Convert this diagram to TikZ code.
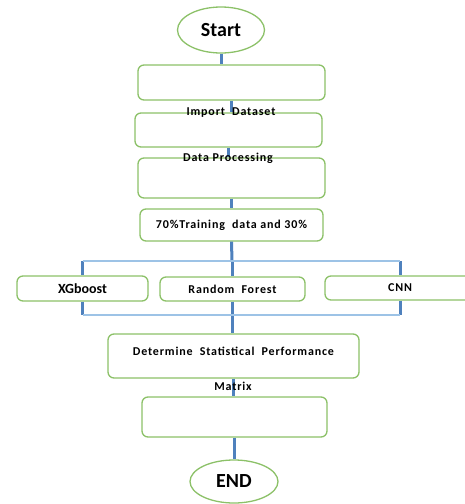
\documentclass[tikz,border=0pt]{standalone}
\usepackage{fontspec}
\setmainfont{Carlito}
\usetikzlibrary{shapes.geometric,positioning,calc}
\definecolor{boxgreen}{HTML}{8CC168}
\definecolor{linkblue}{HTML}{4F81BD}
\definecolor{barblue}{HTML}{9DC3E6}
\newcommand{\boxfont}{\bfseries\fontsize{12}{13}\selectfont\addfontfeature{LetterSpace=7}}
\newcommand{\termfont}{\bfseries\fontsize{20}{22}\selectfont}

\begin{document}
\begin{tikzpicture}[x=1pt, y=-1pt, line width=1.3pt]
   \useasboundingbox (0,0) rectangle (464,504);
   \begin{scope}[every node/.style={draw=boxgreen, fill=white, rounded corners=6pt, inner sep=0pt, font=\boxfont}]
    \node (start) [ellipse, minimum width=87, minimum height=46, font=\termfont] at (221,30) {Start};
    \node (b1) [minimum width=187, minimum height=35] at (231.5,82.5) {};
    \node (b2) [minimum width=187, minimum height=34] at (228.5,130) {};
    \node (b3) [minimum width=187, minimum height=40] at (231.5,178) {};
    \node (b4) [minimum width=183, minimum height=32] at (231.5,225) {70\%Training\ \ data and 30\%};
    \node (xg) [minimum width=131, minimum height=25, font=\bfseries\fontsize{14}{15}\selectfont] at (82.5,288.5) {XGboost};
    \node (rf) [minimum width=145, minimum height=24] at (232.5,289) {Random\ \ Forest};
    \node (cnn) [minimum width=150, minimum height=24] at (400,288) {CNN};
    \node (det) [minimum width=251, minimum height=44] at (233.5,356) {};
    \node (b6) [minimum width=185, minimum height=40] at (234.5,417) {};
    \node (end) [ellipse, minimum width=88, minimum height=43, font=\termfont] at (234,481.5) {END};
   \end{scope}
   \begin{scope}[line width=3pt, draw=linkblue]
    \draw (start.south) -- (start.south |- b1.north);
    \draw (b1.south) -- (b1.south |- b2.north);
    \draw (b2.south) -- (b2.south |- b3.north);
    \draw (b3.south) -- (b3.south |- b4.north);
    \coordinate (split) at (232,261);
    \coordinate (join) at (232,315);
    \draw (b4.south) -- (split);
    \draw (split) -- (split |- rf.north);
    \draw (xg.south) -- (xg.south |- join);
    \draw (cnn.south) -- (cnn.south |- join);
    \draw (rf.south) -- (rf.south |- det.north);
    \draw (det.south) -- (det.south |- b6.north);
    \draw (b6.south) -- (b6.south |- end.north);
    \draw (split -| xg) -- (xg.north);
    \draw (split -| cnn) -- (cnn.north);
   \end{scope}
   \begin{scope}[line width=1.5pt, draw=barblue]
    \draw (split -| xg) -- (split -| cnn);
    \draw (join -| xg) -- (join -| cnn);
   \end{scope}
   % labels that sit on the box borders
   \begin{scope}[every node/.style={inner sep=0pt, font=\boxfont}]
    \node (l1) at (231,113) {Import\ \ Dataset};
    \node (l2) at (228,158) {Data Processing};
    \node (l3) at (233.5,351) {Determine\ \ Statistical\ \ Performance};
    \node (l4) at (233,386) {Matrix};
   \end{scope}
\end{tikzpicture}
\end{document}
